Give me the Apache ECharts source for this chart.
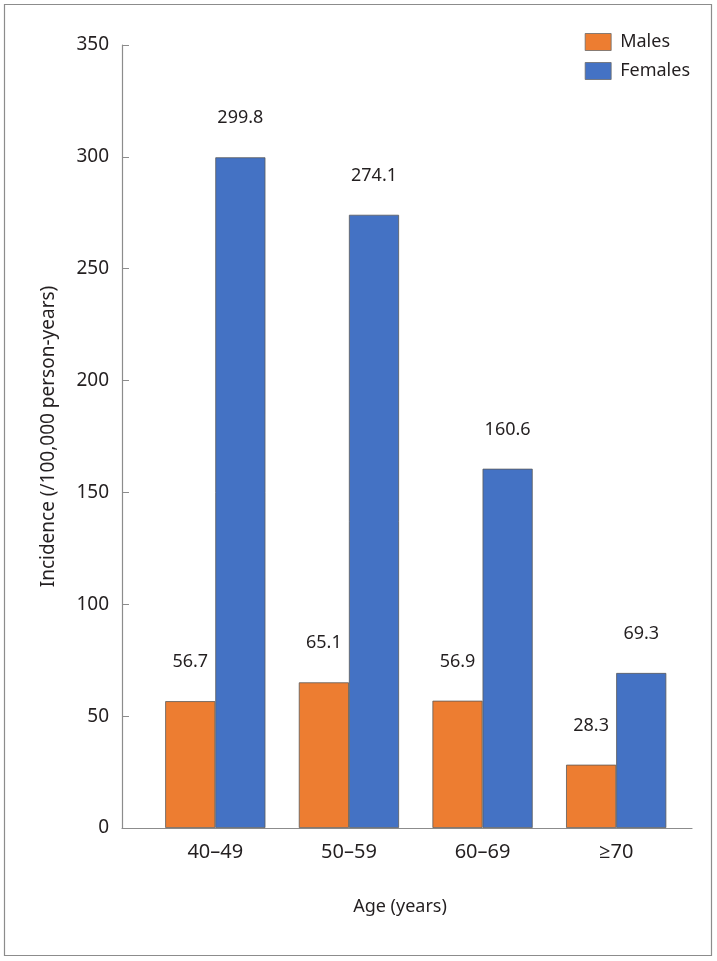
<!DOCTYPE html>
<html><head><meta charset="utf-8">
<script src="https://cdn.jsdelivr.net/npm/echarts@6/dist/echarts.min.js"></script>
<style>html,body{margin:0;padding:0;background:#fff}#c{width:717px;height:961px}</style>
</head><body><div id="c"></div>
<script>
const categories = ['40–49', '50–59', '60–69', '≥70'];
const males = [56.7, 65.1, 56.9, 28.3];
const females = [299.8, 274.1, 160.6, 69.3];
const yTicks = [0, 50, 100, 150, 200, 250, 300, 350];

const FONT = '"Noto Sans", "Open Sans", sans-serif';
const TXT = '#231f20';
const chart = echarts.init(document.getElementById('c'));
const labelCfg = {show: true, position: 'top', distance: 30, fontSize: 18, color: TXT, fontFamily: FONT,
  formatter: p => p.value.toFixed(1)};
chart.setOption({
  animation: false,
  textStyle: {fontFamily: FONT},
  graphic: [{type: 'rect', shape: {x: 4.5, y: 4.5, width: 707, height: 951}, style: {fill: 'none', stroke: '#8c8c8c', lineWidth: 1.2}}],
  legend: {
    data: ['Males', 'Females'], orient: 'vertical', right: 22, top: 28, icon: 'rect',
    itemWidth: 26, itemHeight: 17, itemGap: 11,
    textStyle: {fontSize: 18, color: TXT, fontFamily: FONT, padding: [0, 0, 0, 4]},
    itemStyle: {borderColor: '#6b6b6b', borderWidth: 0.8}
  },
  grid: [
    {left: 122, right: 25, top: 45, bottom: 133, containLabel: false},
    {left: 148.5, right: 34, top: 45, bottom: 133, containLabel: false}
  ],
  xAxis: [
    {type: 'value', gridIndex: 0, min: 0, max: 1, axisLine: {show: true, onZero: false, lineStyle: {color: '#8c8c8c', width: 1.2}},
      axisTick: {show: false}, axisLabel: {show: false}, splitLine: {show: false},
      name: 'Age (years)', nameLocation: 'middle', nameGap: 70,
      nameTextStyle: {fontSize: 18, color: TXT, fontFamily: FONT, padding: [0, 14, 0, 0]}},
    {type: 'category', gridIndex: 1, data: categories, axisLine: {show: false}, axisTick: {show: false},
      axisLabel: {fontSize: 20, color: TXT, margin: 14, fontFamily: FONT}}
  ],
  yAxis: [
    {type: 'value', gridIndex: 0, min: 0, max: 350, interval: 50,
      axisLine: {show: true, lineStyle: {color: '#8c8c8c', width: 1.2}},
      axisTick: {show: true, inside: true, length: 7, lineStyle: {color: '#8c8c8c'}},
      axisLabel: {fontSize: 19, color: TXT, margin: 13, fontFamily: FONT,
        formatter: v => yTicks.includes(v) ? String(v) : ''},
      splitLine: {show: false},
      name: 'Incidence (/100,000 person-years)', nameLocation: 'middle', nameGap: 64, nameRotate: 90,
      nameTextStyle: {fontSize: 19, color: TXT, fontFamily: FONT}},
    {type: 'value', gridIndex: 1, min: 0, max: 350, show: false}
  ],
  series: [
    {name: 'Males', type: 'bar', xAxisIndex: 1, yAxisIndex: 1, data: males, barGap: '0%', barCategoryGap: '25%',
      itemStyle: {color: '#ED7D31', borderColor: '#5a5a5a', borderWidth: 0.8}, label: labelCfg},
    {name: 'Females', type: 'bar', xAxisIndex: 1, yAxisIndex: 1, data: females, barGap: '0%', barCategoryGap: '25%',
      itemStyle: {color: '#4472C4', borderColor: '#5a5a5a', borderWidth: 0.8}, label: labelCfg}
  ]
});
</script></body></html>
